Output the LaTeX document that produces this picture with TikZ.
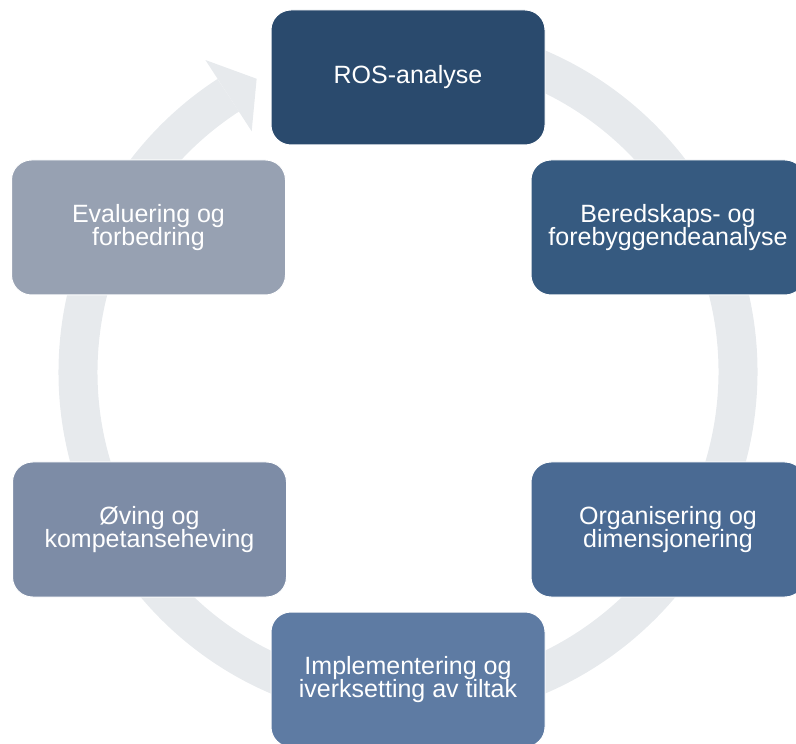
\documentclass[tikz,border=0pt]{standalone}
\usepackage{fontspec}
\setmainfont{Liberation Sans}
\definecolor{rosblue}{HTML}{2A4A6D}
\definecolor{beredblue}{HTML}{365A80}
\definecolor{orgblue}{HTML}{4A6A93}
\definecolor{implblue}{HTML}{5E7BA3}
\definecolor{ovinggray}{HTML}{7D8CA6}
\definecolor{evalgray}{HTML}{97A1B2}
\definecolor{ringgray}{HTML}{E7EAED}
\begin{document}
\begin{tikzpicture}[x=0.75pt, y=0.75pt,
    phase/.style ={rectangle, rounded corners=15pt, draw=white, line width=0.75pt,
      minimum width=205.5pt, minimum height=101.25pt, text=white, align=center,
      font=\fontsize{18.75pt}{17.5pt}\selectfont},
    ring/.style ={ringgray, line width=29.25pt}]
   \useasboundingbox (0,0) rectangle (796,743);
   \clip (0,0) rectangle (796,743);

   % the cycle behind the boxes
   \begin{scope}[shift={(408,371)}]
     \coordinate (start) at (85:330);
     \coordinate (tip) at (117.3:330);
     \draw[ring] (start) arc[start angle=85, end angle=-237, radius=330];
     \fill[ringgray] (123:287) -- (tip) -- (123:372) -- cycle;
   \end{scope}

   \node[phase, fill=rosblue] (ros) at (408,665.5) {ROS-analyse};
   \node[phase, fill=beredblue] (bered) at (668,515.5) {Beredskaps- og\\forebyggendeanalyse};
   \node[phase, fill=orgblue] (org) at (668,213.5) {Organisering og\\dimensjonering};
   \node[phase, fill=implblue] (impl) at (408,63.5) {Implementering og\\iverksetting av tiltak};
   \node[phase, fill=ovinggray] (oving) at (149.5,213.5) {Øving og\\kompetanseheving};
   \node[phase, fill=evalgray] (eval) at (148.5,515.5) {Evaluering og\\forbedring};
 \end{tikzpicture}
\end{document}
